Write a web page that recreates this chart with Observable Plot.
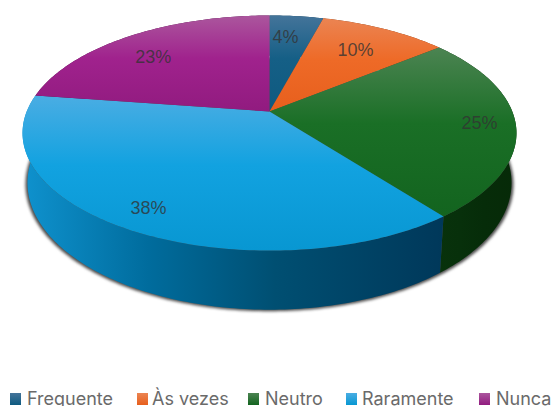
<!DOCTYPE html>
<html>
<head>
<meta charset="utf-8">
<script src="https://cdn.jsdelivr.net/npm/d3@7"></script>
<script src="https://cdn.jsdelivr.net/npm/@observablehq/plot@0.6"></script>
<style>
html,body{margin:0;padding:0;background:#fff;width:553px;height:406px;overflow:hidden}
svg{display:block}
#legend{position:relative;height:14px;font:18px Inter,sans-serif;color:#6a6a6a;white-space:nowrap}
#legend span{position:absolute;top:-1px;line-height:16px}
#legend i{position:absolute;top:1px;width:11px;height:12px}
</style>
</head>
<body>
<div id="chart"></div>
<div id="legend"></div>
<script>
// Data
const categories = ["Frequente", "Às vezes", "Neutro", "Raramente", "Nunca"];
const shares = [4.2, 10, 25.3, 37.8, 22.7];
const percentLabels = ["4%", "10%", "25%", "38%", "23%"];

// Styles
const topColors = [
  ["#44749a", "#155f86", "#0e5a80"],
  ["#eb8452", "#ee6a27", "#e75f1d"],
  ["#4c8452", "#1a6f26", "#13641f"],
  ["#4aade3", "#12a2e0", "#0897d2"],
  ["#ab569d", "#a0228d", "#911b7f"]
];
const wallColors = [
  ["#0a3a55", "#0a3a55", "#0a3a55", "#0a3a55"],
  ["#7a3510", "#7a3510", "#7a3510", "#7a3510"],
  ["#08320c", "#07300b", "#062c09", "#062a08"],
  ["#0f92ce", "#006c9d", "#004f72", "#00385a"],
  ["#4c0f44", "#4c0f44", "#4c0f44", "#4c0f44"]
];
const labelRadius = [0.75, 0.72, 0.855, 0.855, 0.74];
const labelTurnShift = [-0.005, 0, 0, 0, -0.012];
const legendSwatchX = [10, 137, 248, 346, 479];
const legendTextX = [27, 152, 265, 362, 496];

// Perspective view of the disc
const W = 553, H = 392;
const apexX = 269, apexY = 111, spanX = 242.8, spanY = 113.6, tilt = 0.183;
const project = (turn, r = 1) => {
  const a = turn * 2 * Math.PI, u = r * Math.sin(a), v = -r * Math.cos(a), w = 1 - tilt * v;
  return [apexX + spanX * u / w, apexY + spanY * v / w];
};
const lower = ([x, y]) => [apexX + (x - apexX) * 0.98, apexY + (y - apexY) * 1.08 + 48];
const total = d3.sum(shares);
const starts = d3.cumsum([0, ...shares]).map(d => d / total);
const arc = (a, b) => d3.range(0, 1.0001, 1 / Math.max(2, Math.ceil((b - a) * 360))).map(t => project(a + (b - a) * t));
const tops = shares.map((_, i) => [[apexX, apexY], ...arc(starts[i], starts[i + 1])]);
const walls = shares.map((_, i) => {
  const a = arc(starts[i], starts[i + 1]);
  return [...a, ...a.map(lower).reverse()];
});
const shadow = arc(0, 1).map(lower).map(([x, y]) => [apexX + (x - apexX) * 1.008, y + 1.5]);
const labels = shares.map((_, i) => {
  const [x, y] = project((starts[i] + starts[i + 1]) / 2 + labelTurnShift[i], labelRadius[i]);
  return {x, y, text: percentLabels[i]};
});

const gradients = () => {
  const defs = d3.create("svg:defs");
  topColors.forEach((c, i) => {
    const g = defs.append("linearGradient").attr("id", "top" + i).attr("x1", 0).attr("y1", 0).attr("x2", 0).attr("y2", 1);
    [0, 0.45, 1].forEach((o, j) => g.append("stop").attr("offset", o).attr("stop-color", c[j]));
  });
  wallColors.forEach((c, i) => {
    const g = defs.append("linearGradient").attr("id", "wall" + i).attr("x1", 0).attr("y1", 0).attr("x2", 1).attr("y2", 0);
    [0, 0.3, 0.6, 1].forEach((o, j) => g.append("stop").attr("offset", o).attr("stop-color", c[j]));
  });
  return defs.node();
};

const polygon = (pts, fill) => Plot.line(pts, {x: d => d[0], y: d => d[1], fill, stroke: "none", curve: "linear"});

document.getElementById("chart").append(Plot.plot({
  width: W, height: H, margin: 0,
  x: {domain: [0, W], range: [0, W], axis: null},
  y: {domain: [0, H], range: [0, H], axis: null},
  marks: [
    gradients,
    Plot.line(shadow, {x: d => d[0], y: d => d[1], fill: "#4a4a4a", stroke: "none", imageFilter: "blur(1.6px)"}),
    ...walls.map((p, i) => polygon(p, `url(#wall${i})`)),
    ...tops.map((p, i) => polygon(p, `url(#top${i})`)),
    Plot.text(labels, {x: "x", y: "y", text: "text", fontSize: 18, fontFamily: "Liberation Sans", fill: "#333", fillOpacity: 0.8})
  ]
}));

const legend = d3.select("#legend");
categories.forEach((c, i) => {
  legend.append("i").style("left", legendSwatchX[i] + "px")
    .style("background", `linear-gradient(${topColors[i][0]},${topColors[i][2]})`);
  legend.append("span").style("left", legendTextX[i] + "px").text(c);
});
</script>
</body>
</html>
